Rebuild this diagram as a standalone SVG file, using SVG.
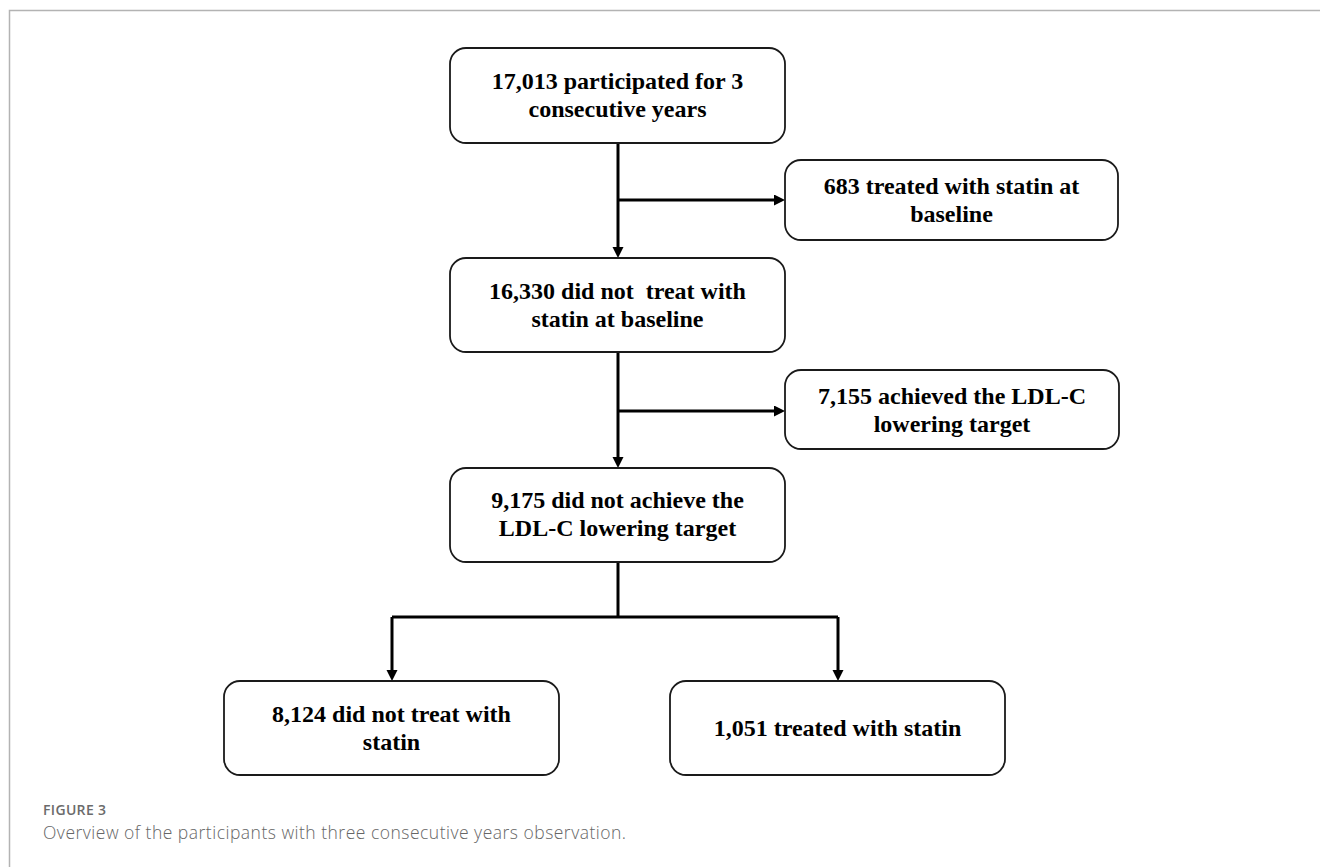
<svg xmlns="http://www.w3.org/2000/svg" width="1320" height="867" viewBox="0 0 1320 867">
  <style>
    .box { fill: #ffffff; stroke: #1a1a1a; stroke-width: 1.8; }
    .lbl { font-family: "Liberation Serif", "Times New Roman", serif; font-weight: bold; font-size: 24px; fill: #000; text-anchor: middle; }
    .conn { fill: none; stroke: #000; stroke-width: 3; }
    .frame { fill: none; stroke: #b3b3b3; stroke-width: 1.5; }
    .figno { font-family: "Open Sans", "Noto Sans", sans-serif; font-weight: 600; font-size: 14px; fill: #6b6b6b; }
    .cap { font-family: "Open Sans", "Noto Sans", sans-serif; font-weight: 300; font-size: 17.5px; fill: #666666; }
  </style>
  <defs>
    <marker id="arrow" markerUnits="userSpaceOnUse" markerWidth="12" markerHeight="12" refX="5" refY="5.5" orient="auto">
      <path d="M0,0 L11,5.5 L0,11 z" fill="#000"/>
    </marker>
  </defs>
  <rect x="0" y="0" width="1320" height="867" fill="#ffffff"/>
  <path class="frame" d="M9.5,867 V10.5 H1320"/>

  <g id="connectors">
    <path class="conn" d="M618,143 V252" marker-end="url(#arrow)"/>
    <path class="conn" d="M618,200 H779" marker-end="url(#arrow)"/>
    <path class="conn" d="M618,352 V462" marker-end="url(#arrow)"/>
    <path class="conn" d="M618,411 H779" marker-end="url(#arrow)"/>
    <path class="conn" d="M618,562 V617"/>
    <path class="conn" d="M392,617 H838"/>
    <path class="conn" d="M392,617 V675" marker-end="url(#arrow)"/>
    <path class="conn" d="M838,617 V675" marker-end="url(#arrow)"/>
  </g>

  <g id="node1">
    <rect class="box" x="450" y="48" width="335" height="95" rx="16"/>
    <text class="lbl" x="617.5" y="89">17,013 participated for 3</text>
    <text class="lbl" x="617.5" y="117">consecutive years</text>
  </g>
  <g id="node2">
    <rect class="box" x="785" y="160" width="333" height="80" rx="16"/>
    <text class="lbl" x="951.5" y="193.5">683 treated with statin at</text>
    <text class="lbl" x="951.5" y="221.5">baseline</text>
  </g>
  <g id="node3">
    <rect class="box" x="450" y="258" width="335" height="94" rx="16"/>
    <text class="lbl" x="617.5" y="299" xml:space="preserve">16,330 did not  treat with</text>
    <text class="lbl" x="617.5" y="327">statin at baseline</text>
  </g>
  <g id="node4">
    <rect class="box" x="785" y="370" width="334" height="79" rx="16"/>
    <text class="lbl" x="952" y="404">7,155 achieved the LDL-C</text>
    <text class="lbl" x="952" y="432">lowering target</text>
  </g>
  <g id="node5">
    <rect class="box" x="450" y="468" width="335" height="94" rx="16"/>
    <text class="lbl" x="617.5" y="508">9,175 did not achieve the</text>
    <text class="lbl" x="617.5" y="536">LDL-C lowering target</text>
  </g>
  <g id="node6">
    <rect class="box" x="224" y="681" width="335" height="94" rx="16"/>
    <text class="lbl" x="391.5" y="721.5">8,124 did not treat with</text>
    <text class="lbl" x="391.5" y="749.5">statin</text>
  </g>
  <g id="node7">
    <rect class="box" x="670" y="681" width="335" height="94" rx="16"/>
    <text class="lbl" x="837.5" y="736">1,051 treated with statin</text>
  </g>

  <g id="caption">
    <text class="figno" x="43" y="815" textLength="63" lengthAdjust="spacing">FIGURE 3</text>
    <text class="cap" x="43" y="839" textLength="583" lengthAdjust="spacing">Overview of the participants with three consecutive years observation.</text>
  </g>
</svg>
